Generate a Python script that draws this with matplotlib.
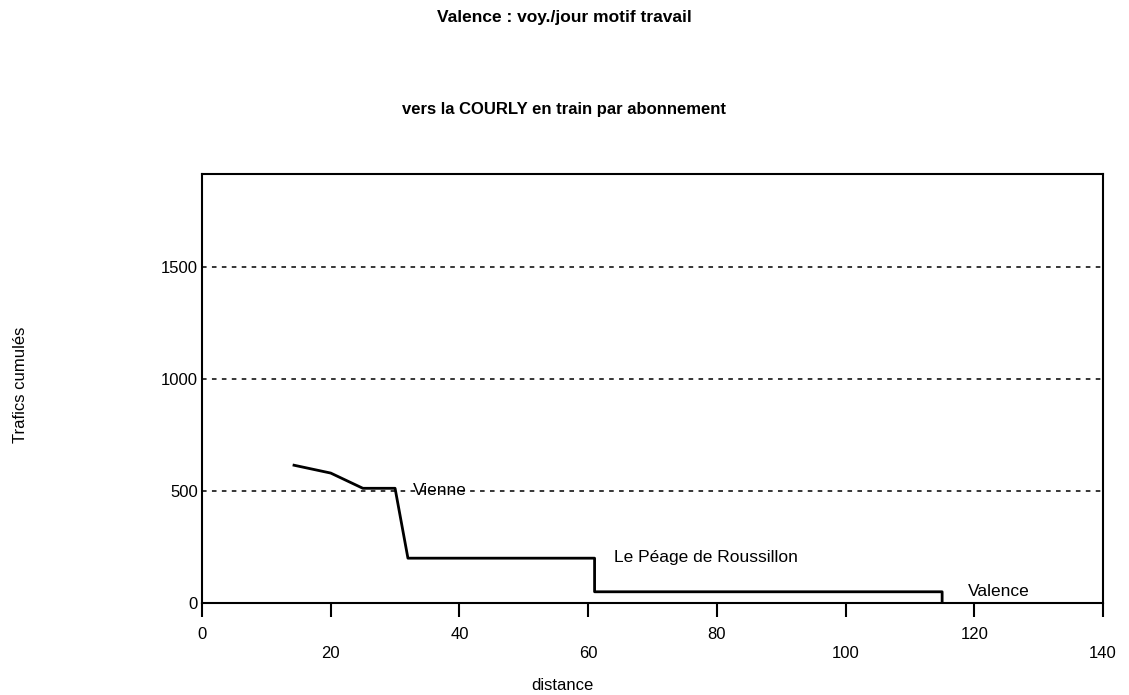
import matplotlib
matplotlib.use('Agg')
import matplotlib.pyplot as plt

# cumulated traffic vs distance
distance = [14.3, 20, 25, 30, 32, 61, 61, 115, 115]
trafic   = [615, 580, 512, 512, 200, 200, 50, 50, 0]

labels   = ['Vienne', 'Le Péage de Roussillon', 'Valence']
label_x  = [32.8, 64.0, 119.0]
label_y  = [500, 202, 50]

grid_y      = [500, 1000, 1500]
xticks_up   = [0, 40, 80, 120]
xticks_down = [20, 60, 100, 140]
yticks      = [0, 500, 1000, 1500]

plt.rcParams['font.family'] = ['Liberation Sans', 'DejaVu Sans']

fig = plt.figure(figsize=(11.29, 6.95), dpi=100)
ax = fig.add_axes([0.1789, 0.1324, 0.7981, 0.6172])

for g in grid_y:
    ax.axhline(g, color='black', lw=1.1, ls=(0, (3, 3.5)), zorder=1)

ax.plot(distance, trafic, color='black', lw=2, zorder=3)

for t, x, y in zip(labels, label_x, label_y):
    ax.text(x, y, t, fontsize=12.5, va='center', ha='left', zorder=2)

ax.set_xlim(0, 140)
ax.set_ylim(0, 1915)

# staggered x labels: two rows
ax.set_xticks(xticks_up)
ax.set_xticklabels([str(v) for v in xticks_up])
ax.set_xticks(xticks_down, minor=True)
ax.set_xticklabels([str(v) for v in xticks_down], minor=True)
ax.tick_params(axis='x', which='major', direction='out', length=10, width=1.5, pad=7.5, labelsize=12)
ax.tick_params(axis='x', which='minor', direction='out', length=10, width=1.5, pad=21, labelsize=12)

ax.set_yticks(yticks)
ax.set_yticklabels([str(v) for v in yticks])
ax.tick_params(axis='y', length=0, pad=3, labelsize=12)

for s in ax.spines.values():
    s.set_linewidth(1.5)

fig.text(0.5, 0.975, 'Valence : voy./jour motif travail', ha='center', va='center',
         fontsize=12.5, fontweight='bold')
fig.text(0.5, 0.843, 'vers la COURLY en train par abonnement', ha='center', va='center',
         fontsize=12, fontweight='bold')
fig.text(0.498, 0.014, 'distance', ha='center', va='center', fontsize=12)
fig.text(0.018, 0.446, 'Trafics cumulés', ha='center', va='center', fontsize=12, rotation=90)

fig.savefig('out.png', dpi=100)
